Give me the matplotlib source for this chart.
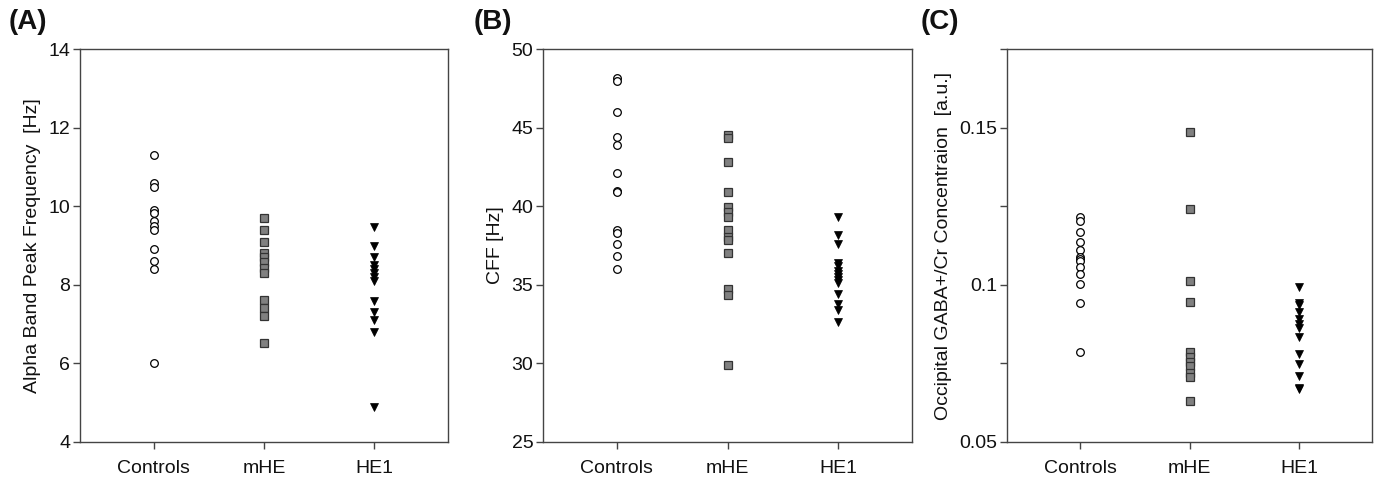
import matplotlib
matplotlib.use("Agg")
import matplotlib.pyplot as plt
from matplotlib.ticker import FixedLocator, FixedFormatter

plt.rcParams['font.family'] = ['Liberation Sans', 'DejaVu Sans']

categories = ["Controls", "mHE", "HE1"]

# Panel A: Alpha band peak frequency [Hz]
alpha_controls = [11.3, 10.6, 10.5, 9.9, 9.82, 9.62, 9.5, 9.4, 8.9, 8.6, 8.4, 6.0]
alpha_mhe = [9.7, 9.4, 9.1, 8.82, 8.7, 8.57, 8.42, 8.29, 7.61, 7.41, 7.21, 6.51]
alpha_he1 = [9.48, 8.99, 8.71, 8.5, 8.4, 8.3, 8.2, 8.1, 7.59, 7.31, 7.1, 6.8, 4.89]

# Panel B: CFF [Hz]
cff_controls = [48.2, 48.0, 46.0, 44.4, 43.9, 42.1, 41.0, 40.9, 38.5, 38.3, 37.6, 36.8, 36.0]
cff_mhe = [44.55, 44.35, 42.8, 40.9, 39.95, 39.63, 39.3, 38.49, 38.05, 37.82, 37.0, 34.74, 34.37, 29.9]
cff_he1 = [39.3, 38.2, 37.6, 36.4, 36.2, 35.9, 35.7, 35.5, 35.3, 35.1, 34.4, 33.8, 33.4, 32.6]

# Panel C: Occipital GABA+/Cr [a.u.]
gaba_controls = [0.1216, 0.1204, 0.1168, 0.1137, 0.1112, 0.1089, 0.1082, 0.1075, 0.1057, 0.1033, 0.1001, 0.0941, 0.0785]
gaba_mhe = [0.1485, 0.1242, 0.1013, 0.0946, 0.0787, 0.0770, 0.0755, 0.0740, 0.0720, 0.0705, 0.0630]
gaba_he1 = [0.0993, 0.0942, 0.0935, 0.0912, 0.0890, 0.0875, 0.0862, 0.0833, 0.0780, 0.0748, 0.0710, 0.0670, 0.0668]

panels = [
    dict(label="(A)", data=[alpha_controls, alpha_mhe, alpha_he1],
         ylabel="Alpha Band Peak Frequency  [Hz]", ylim=(4, 14),
         ticks=[4, 6, 8, 10, 12, 14], ticklabels=["4", "6", "8", "10", "12", "14"]),
    dict(label="(B)", data=[cff_controls, cff_mhe, cff_he1],
         ylabel="CFF [Hz]", ylim=(25, 50),
         ticks=[25, 30, 35, 40, 45, 50], ticklabels=["25", "30", "35", "40", "45", "50"]),
    dict(label="(C)", data=[gaba_controls, gaba_mhe, gaba_he1],
         ylabel="Occipital GABA+/Cr Concentraion  [a.u.]", ylim=(0.05, 0.175),
         ticks=[0.05, 0.075, 0.1, 0.125, 0.15, 0.175],
         ticklabels=["0.05", "", "0.1", "", "0.15", ""]),
]

W, H = 1380, 479
fig = plt.figure(figsize=(W / 100, H / 100), dpi=100)

axes_px = [(80, 448), (543, 912), (1007, 1372)]
top_px, bot_px = 49.3, 441.7
label_pos = [(9, 470), (474, 470), (921, 470)]

marker_styles = [
    dict(marker="o", ms=5.5, mfc="white", mec="black", mew=0.9),
    dict(marker="s", ms=5.8, mfc="#808080", mec="#333333", mew=0.9),
    dict(marker="v", ms=6, mfc="black", mec="black", mew=0.5),
]

spine_col = "#444444"
for p, (l, r), (lx, ly) in zip(panels, axes_px, label_pos):
    ax = fig.add_axes([l / W, (H - bot_px) / H, (r - l) / W, (bot_px - top_px) / H])
    for i, (vals, st) in enumerate(zip(p["data"], marker_styles)):
        ax.plot([i + 1] * len(vals), vals, linestyle="none", **st)
    ax.set_xlim(1 / 3, 3 + 2 / 3)
    ax.set_ylim(*p["ylim"])
    ax.xaxis.set_major_locator(FixedLocator([1, 2, 3]))
    ax.xaxis.set_major_formatter(FixedFormatter(categories))
    ax.yaxis.set_major_locator(FixedLocator(p["ticks"]))
    ax.yaxis.set_major_formatter(FixedFormatter(p["ticklabels"]))
    ax.tick_params(axis="both", direction="out", length=5, width=1, color=spine_col,
                   labelsize=14, labelcolor="#111111", pad=2)
    ax.tick_params(axis="x", pad=8.5)
    for s in ax.spines.values():
        s.set_color(spine_col)
        s.set_linewidth(1.0)
    ax.set_ylabel(p["ylabel"], fontsize=14, color="#111111", labelpad=5)
    fig.text(lx / W, ly / H, p["label"], fontsize=20, fontweight="bold",
             ha="left", va="top", color="#111111")

fig.savefig("out.png", dpi=100)
